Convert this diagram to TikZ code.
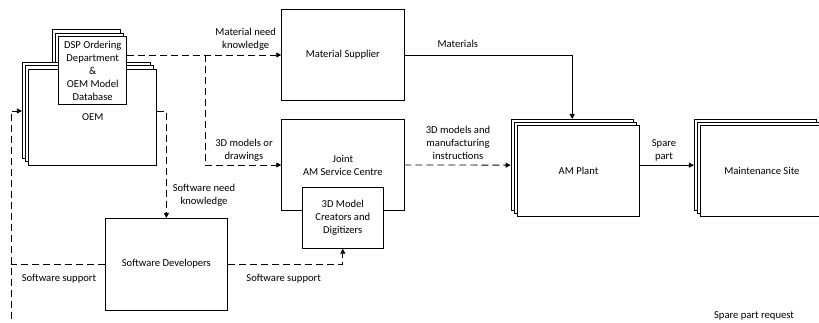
\documentclass[tikz,border=0pt]{standalone}
\usepackage{fontspec}
\setmainfont{Carlito}
\usetikzlibrary{arrows.meta}
\begin{document}
\begin{tikzpicture}[x=1pt,y=-1pt,
  font=\fontsize{10.6}{13}\selectfont,
  line width=0.8pt,
  bx/.style={draw, fill=white, inner sep=0pt, align=center},
  big/.style={bx, minimum width=122.4pt, minimum height=91.5pt},
  oembox/.style={bx, minimum width=128pt, minimum height=96pt},
  dspbox/.style={bx, minimum width=68pt, minimum height=67.6pt},
  dsh/.style={dash pattern=on 7pt off 4pt},
  >={Triangle[length=5pt,width=5pt]},
  lbl/.style={align=center, inner sep=0pt}]
\useasboundingbox (0,0) rectangle (819,323);
\clip (0,0) rectangle (819,323);
% DSP back layers
\node[dspbox] (dspb) at (86,63.1) {};
\node[dspbox] (dspm) at (89.3,66.8) {};
% OEM stack
\node[oembox] (oemb) at (86.3,110) {};
\node[oembox] (oemm) at (89.5,113.5) {};
\node[oembox] (oem) at (92.7,117) {OEM};
% DSP front
\node[dspbox] (dsp) at (92.7,70.5) {DSP Ordering\\Department\\\&\\OEM Model\\Database};
% Material supplier, joint
\node[big] (ms) at (342.85,55) {Material Supplier};
\node[big] (joint) at (342.85,165) {Joint\\AM Service Centre};
\node[bx, minimum width=81pt, minimum height=60.6pt] (dmc) at (342.8,218) {3D Model\\Creators and\\Digitizers};
% Software developers
\node[big] (sd) at (166.35,264.15) {Software Developers};
% AM plant
\node[big] (amb) at (572.2,165.15) {};
\node[big] (amm) at (575.4,168) {};
\node[big] (am) at (578.5,170.85) {AM Plant};
% Maintenance
\node[big] (mb) at (755.5,165.15) {};
\node[big] (mm) at (758.7,168) {};
\node[big] (mt) at (761.9,170.85) {Maintenance Site};
% coordinates
\coordinate (br) at (205,55);
\coordinate (k) at (166.35,111);
\coordinate (lt) at (11,111);
\coordinate (lb) at (11,330);
% connectors
\draw[dsh,->] (dsp.east |- ms.west) -- (ms.west);
\draw[dsh,->] (br) -- (br |- joint.west) -- (joint.west);
\draw[dsh,->] (oem.east |- k) -- (k) -- (sd.north);
\draw[dsh,->] (lb) -- (lt) -- (oemb.west |- lt);
\draw[dsh] (sd.west) -- (sd.west -| lt);
\draw[dsh,->] (sd.east) -- (sd.east -| dmc.south) -- (dmc.south);
\draw[->] (ms.east) -- (ms.east -| amb.north) -- (amb.north);
\draw[dsh,->] (joint.east) -- (amb.west);
\draw[->] (am.east |- mb.west) -- (mb.west);
% labels
\node[lbl] (l1) at (245.7,39.3) {Material need\\knowledge};
\node[lbl] (l2) at (244,150) {3D models or\\drawings};
\node[lbl] (l3) at (457.8,43.7) {Materials};
\node[lbl] (l4) at (458,142.8) {3D models and\\manufacturing\\instructions};
\node[lbl] (l5) at (664,150.3) {Spare\\part};
\node[lbl] (l6) at (204,195.3) {Software need\\knowledge};
\node[lbl] (l7) at (59,279) {Software support};
\node[lbl] (l8) at (283.7,278.7) {Software support};
\node[lbl] (l9) at (754,316) {Spare part request};
\end{tikzpicture}
\end{document}
